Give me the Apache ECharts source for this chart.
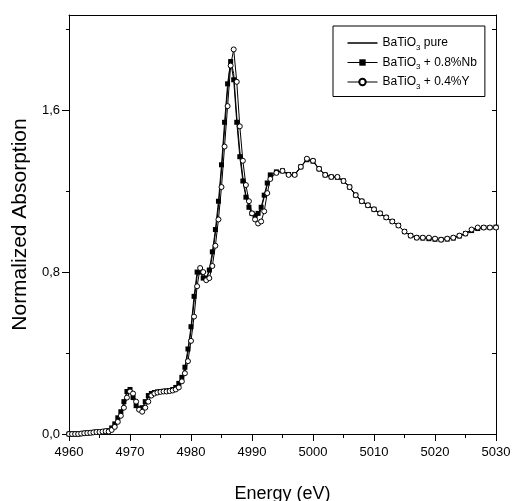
<!DOCTYPE html>
<html>
<head>
<meta charset="utf-8">
<script src="https://cdn.jsdelivr.net/npm/echarts@6/dist/echarts.min.js"></script>
<style>
  html, body { margin: 0; padding: 0; background: #fff; }
  #chart { width: 513px; height: 501px; }
</style>
</head>
<body>
<div id="chart"></div>
<script>
// energies (eV): 0.5 eV steps up to 4993, then 1 eV
var energy = [
  4960, 4960.5, 4961, 4961.5, 4962, 4962.5, 4963, 4963.5, 4964, 4964.5,
  4965, 4965.5, 4966, 4966.5, 4967, 4967.5, 4968, 4968.5, 4969, 4969.5,
  4970, 4970.5, 4971, 4971.5, 4972, 4972.5, 4973, 4973.5, 4974, 4974.5,
  4975, 4975.5, 4976, 4976.5, 4977, 4977.5, 4978, 4978.5, 4979, 4979.5,
  4980, 4980.5, 4981, 4981.5, 4982, 4982.5, 4983, 4983.5, 4984, 4984.5,
  4985, 4985.5, 4986, 4986.5, 4987, 4987.5, 4988, 4988.5, 4989, 4989.5,
  4990, 4990.5, 4991, 4991.5, 4992, 4992.5, 4993,
  4994, 4995, 4996, 4997, 4998, 4999, 5000, 5001, 5002, 5003,
  5004, 5005, 5006, 5007, 5008, 5009, 5010, 5011, 5012, 5013,
  5014, 5015, 5016, 5017, 5018, 5019, 5020, 5021, 5022, 5023,
  5024, 5025, 5026, 5027, 5028, 5029, 5030
];

var pure = [
  0.000, 0.000, 0.000, 0.000, 0.002, 0.004, 0.005, 0.006, 0.008, 0.010,
  0.010, 0.012, 0.014, 0.018, 0.028, 0.045, 0.070, 0.100, 0.150, 0.200,
  0.215, 0.185, 0.145, 0.122, 0.122, 0.150, 0.185, 0.198, 0.203, 0.207,
  0.210, 0.210, 0.212, 0.214, 0.218, 0.225, 0.245, 0.270, 0.320, 0.400,
  0.510, 0.650, 0.780, 0.810, 0.780, 0.770, 0.800, 0.880, 0.990, 1.120,
  1.300, 1.500, 1.700, 1.850, 1.780, 1.570, 1.400, 1.270, 1.180, 1.120,
  1.090, 1.070, 1.080, 1.110, 1.170, 1.230, 1.270,
  1.290, 1.300, 1.280, 1.280, 1.320, 1.355, 1.345, 1.310, 1.280, 1.270,
  1.268, 1.250, 1.220, 1.180, 1.150, 1.130, 1.110, 1.090, 1.070, 1.050,
  1.030, 1.000, 0.980, 0.970, 0.968, 0.965, 0.962, 0.960, 0.963, 0.968,
  0.978, 0.990, 1.005, 1.015, 1.020, 1.020, 1.022
];

var nb = [
  0.000, 0.000, 0.000, 0.000, 0.002, 0.004, 0.005, 0.006, 0.008, 0.010,
  0.010, 0.012, 0.014, 0.016, 0.030, 0.050, 0.080, 0.110, 0.160, 0.210,
  0.220, 0.180, 0.140, 0.125, 0.130, 0.160, 0.190, 0.200, 0.205, 0.208,
  0.210, 0.211, 0.213, 0.215, 0.220, 0.230, 0.250, 0.280, 0.330, 0.420,
  0.530, 0.680, 0.800, 0.800, 0.770, 0.770, 0.810, 0.900, 1.010, 1.150,
  1.330, 1.540, 1.730, 1.840, 1.750, 1.540, 1.370, 1.250, 1.170, 1.120,
  1.090, 1.080, 1.090, 1.120, 1.180, 1.240, 1.280,
  1.295, 1.300, 1.282, 1.282, 1.320, 1.355, 1.348, 1.310, 1.280, 1.270,
  1.268, 1.250, 1.220, 1.180, 1.150, 1.130, 1.110, 1.090, 1.070, 1.050,
  1.030, 1.000, 0.980, 0.970, 0.968, 0.965, 0.962, 0.960, 0.963, 0.968,
  0.978, 0.990, 1.005, 1.015, 1.020, 1.020, 1.022
];

var y04 = [
  0.000, 0.000, 0.000, 0.000, 0.002, 0.004, 0.005, 0.006, 0.008, 0.010,
  0.010, 0.012, 0.014, 0.012, 0.020, 0.035, 0.060, 0.090, 0.130, 0.180,
  0.210, 0.200, 0.160, 0.120, 0.110, 0.130, 0.160, 0.190, 0.200, 0.205,
  0.208, 0.210, 0.210, 0.212, 0.215, 0.220, 0.230, 0.260, 0.300, 0.360,
  0.460, 0.580, 0.730, 0.820, 0.800, 0.760, 0.770, 0.830, 0.930, 1.060,
  1.220, 1.420, 1.620, 1.820, 1.900, 1.740, 1.520, 1.350, 1.230, 1.150,
  1.090, 1.060, 1.040, 1.050, 1.100, 1.190, 1.260,
  1.290, 1.300, 1.280, 1.280, 1.320, 1.360, 1.350, 1.310, 1.280, 1.270,
  1.270, 1.250, 1.220, 1.180, 1.150, 1.130, 1.110, 1.090, 1.070, 1.050,
  1.030, 1.000, 0.980, 0.970, 0.970, 0.970, 0.965, 0.960, 0.965, 0.970,
  0.980, 0.990, 1.010, 1.020, 1.020, 1.020, 1.020
];

var seriesNames = ['pure', 'nb', 'y'];
var legendLabels = {
  pure: '{a|BaTiO}{s|3}{a| pure}',
  nb: '{a|BaTiO}{s|3}{a| + 0.8%Nb}',
  y: '{a|BaTiO}{s|3}{a| + 0.4%Y}'
};

var xMajorTicks = [4960, 4970, 4980, 4990, 5000, 5010, 5020, 5030];
var xMinorTicks = [4965, 4975, 4985, 4995, 5005, 5015, 5025];
var yMajorTicks = [0, 0.8, 1.6];
var yMinorTicks = [0.4, 1.2, 2.0];
var yAllTicks = [0, 0.4, 0.8, 1.2, 1.6, 2.0];

function pairs(vals) {
  return energy.map(function (e, i) { return [e, vals[i]]; });
}

var font = "'Liberation Sans', Arial, sans-serif";
// plain line legend icon (thin bar centred in a 30x8 box)
var lineIcon = 'path://M0,0L0.01,0L0,0.01Z M0,3.3L30,3.3L30,4.7L0,4.7Z M0,8L0.01,8L0,7.99Z';

var chart = echarts.init(document.getElementById('chart'));

var xBase = { type: 'value', min: 4960, max: 5030, gridIndex: 0 };
var yBase = { type: 'value', min: 0, max: 2.07, gridIndex: 0 };

var option = {
  animation: false,
  backgroundColor: '#fff',
  textStyle: { fontFamily: font, color: '#000' },
  grid: { left: 69, right: 17, top: 15, bottom: 67, show: false, containLabel: false, outerBoundsMode: 'none' },
  legend: {
    data: [{ name: 'pure', icon: lineIcon }, { name: 'nb' }, { name: 'y' }],
    left: 333, top: 26,
    orient: 'vertical',
    padding: [11, 8, 6, 14],
    itemGap: 5,
    itemWidth: 30, itemHeight: 8,
    borderColor: '#000', borderWidth: 1,
    lineStyle: { width: 1 },
    formatter: function (n) { return legendLabels[n]; },
    textStyle: {
      fontFamily: font,
      rich: {
        a: { fontFamily: font, fontSize: 12, color: '#000', lineHeight: 14 },
        s: { fontFamily: font, fontSize: 8, color: '#000', verticalAlign: 'bottom', padding: [9, 0, 0, 0] }
      }
    }
  },
  xAxis: [
    Object.assign({}, xBase, {
      position: 'bottom',
      name: 'Energy (eV)', nameLocation: 'middle', nameGap: 51,
      nameTextStyle: { fontFamily: font, fontSize: 18, color: '#000' },
      axisLine: { show: true, onZero: false, lineStyle: { color: '#000', width: 1 } },
      axisTick: { show: true, inside: false, length: 7, customValues: xMajorTicks, lineStyle: { color: '#000' } },
      axisLabel: {
        show: true, customValues: xMajorTicks, margin: 12, fontSize: 13, color: '#000', fontFamily: font,
        formatter: function (v) { return String(v); }
      },
      splitLine: { show: false }
    }),
    Object.assign({}, xBase, {
      position: 'bottom',
      axisLine: { show: false, onZero: false },
      axisTick: { show: true, inside: false, length: 4, customValues: xMinorTicks, lineStyle: { color: '#000' } },
      axisLabel: { show: false },
      splitLine: { show: false }
    }),
    Object.assign({}, xBase, {
      position: 'top',
      axisLine: { show: true, onZero: false, lineStyle: { color: '#000', width: 1 } },
      axisTick: { show: false },
      axisLabel: { show: false },
      splitLine: { show: false }
    })
  ],
  yAxis: [
    Object.assign({}, yBase, {
      position: 'left',
      name: 'Normalized Absorption', nameLocation: 'middle', nameGap: 38,
      nameTextStyle: { fontFamily: font, fontSize: 21, color: '#000' },
      axisLine: { show: true, onZero: false, lineStyle: { color: '#000', width: 1 } },
      axisTick: { show: true, inside: false, length: 7, customValues: yMajorTicks, lineStyle: { color: '#000' } },
      axisLabel: {
        show: true, customValues: yMajorTicks, margin: 9, fontSize: 13, color: '#000', fontFamily: font,
        formatter: function (v) { return v.toFixed(1).replace('.', ','); }
      },
      splitLine: { show: false }
    }),
    Object.assign({}, yBase, {
      position: 'left',
      axisLine: { show: false, onZero: false },
      axisTick: { show: true, inside: false, length: 3, customValues: yMinorTicks, lineStyle: { color: '#000' } },
      axisLabel: { show: false },
      splitLine: { show: false }
    }),
    Object.assign({}, yBase, {
      position: 'right',
      axisLine: { show: true, onZero: false, lineStyle: { color: '#000', width: 1 } },
      axisTick: { show: true, inside: true, length: 4, customValues: yAllTicks, lineStyle: { color: '#000' } },
      axisLabel: { show: false },
      splitLine: { show: false }
    })
  ],
  series: [
    {
      name: 'pure', type: 'line', data: pairs(pure),
      xAxisIndex: 0, yAxisIndex: 0,
      symbol: 'none',
      lineStyle: { color: '#000', width: 1 },
      itemStyle: { color: '#000' },
      z: 2
    },
    {
      name: 'nb', type: 'line', data: pairs(nb),
      xAxisIndex: 0, yAxisIndex: 0,
      symbol: 'rect', symbolSize: 5, showAllSymbol: true,
      lineStyle: { color: '#000', width: 1 },
      itemStyle: { color: '#000' },
      z: 3
    },
    {
      name: 'y', type: 'line', data: pairs(y04),
      xAxisIndex: 0, yAxisIndex: 0,
      symbol: 'circle', symbolSize: 5, showAllSymbol: true,
      lineStyle: { color: '#000', width: 1 },
      itemStyle: { color: '#fff', borderColor: '#000', borderWidth: 1 },
      z: 4
    }
  ]
};

chart.setOption(option);
</script>
</body>
</html>
